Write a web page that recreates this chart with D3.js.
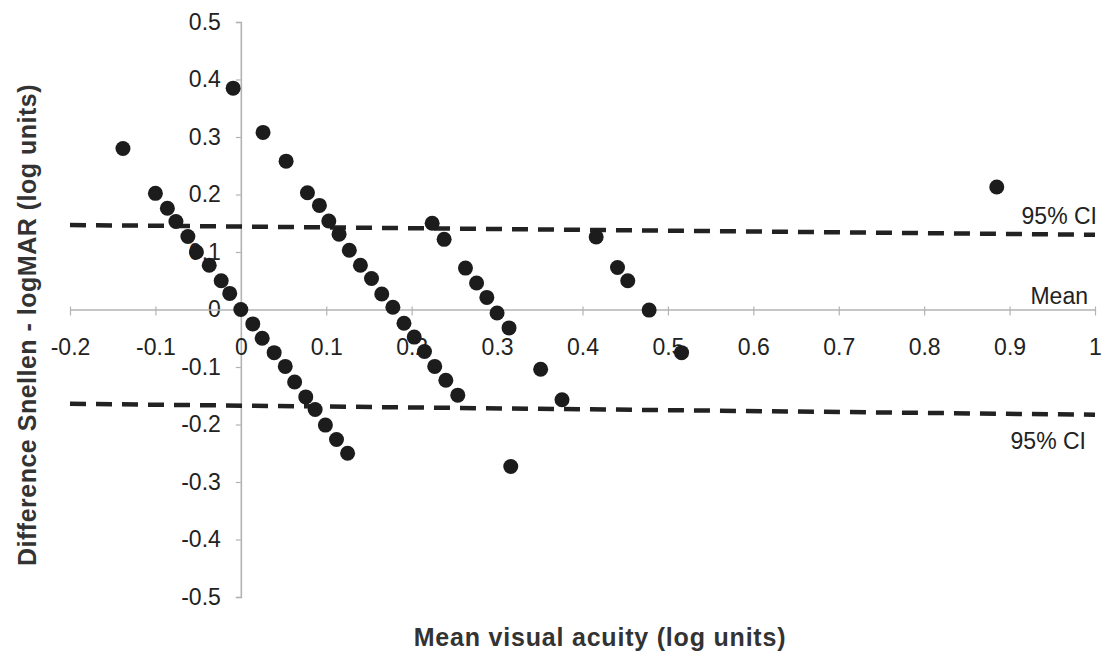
<!DOCTYPE html>
<html>
<head>
<meta charset="utf-8">
<script src="https://cdn.jsdelivr.net/npm/d3@7"></script>
<style>
  html, body { margin: 0; padding: 0; background: #fff; }
  svg { display: block; font-family: "Liberation Sans", Arial, Helvetica, sans-serif; }
</style>
</head>
<body>
<svg id="chart" width="1105" height="656"></svg>
<script>
// ---- Data ----
// Mean visual acuity (x) and Snellen - logMAR difference (y) for each subject
const meanAcuity = [
  -0.138, -0.009, 0.026, 0.053,
  -0.100, -0.086, -0.076, -0.062, -0.052, -0.037, -0.023, -0.013, 0.000, 0.014,
  0.025, 0.039, 0.052, 0.063, 0.076, 0.087, 0.099, 0.112, 0.125,
  0.078, 0.092, 0.103, 0.115, 0.127, 0.140, 0.153, 0.165, 0.178, 0.191,
  0.203, 0.215, 0.227, 0.240, 0.254,
  0.224, 0.238, 0.263, 0.276, 0.288, 0.300, 0.314,
  0.351, 0.376, 0.316,
  0.416, 0.441, 0.453, 0.478, 0.516, 0.885
];
const difference = [
  0.280, 0.385, 0.308, 0.258,
  0.202, 0.176, 0.153, 0.127, 0.100, 0.077, 0.050, 0.028, 0.000, -0.025,
  -0.050, -0.075, -0.099, -0.126, -0.152, -0.174, -0.201, -0.226, -0.250,
  0.203, 0.181, 0.154, 0.131, 0.103, 0.077, 0.054, 0.027, 0.004, -0.024,
  -0.048, -0.073, -0.099, -0.123, -0.149,
  0.150, 0.122, 0.072, 0.046, 0.021, -0.006, -0.032,
  -0.104, -0.157, -0.273,
  0.126, 0.073, 0.050, -0.001, -0.075, 0.213
];

// Reference lines (values at the left and right ends of the plotted range)
const lineEndsX = [-0.2, 1];
const ciUpper = [0.147, 0.130];
const ciLower = [-0.164, -0.183];
const meanDiff = 0;

// Axis ticks
const xTicks = [-0.2, -0.1, 0, 0.1, 0.2, 0.3, 0.4, 0.5, 0.6, 0.7, 0.8, 0.9, 1];
const xTickLabels = ["-0.2", "-0.1", "0", "0.1", "0.2", "0.3", "0.4", "0.5", "0.6", "0.7", "0.8", "0.9", "1"];
const yTicks = [0.5, 0.4, 0.3, 0.2, 0.1, 0, -0.1, -0.2, -0.3, -0.4, -0.5];
const yTickLabels = ["0.5", "0.4", "0.3", "0.2", "0.1", "0", "-0.1", "-0.2", "-0.3", "-0.4", "-0.5"];

const lineLabels = ["95% CI", "Mean", "95% CI"];
const xTitle = "Mean visual acuity (log units)";
const yTitle = "Difference Snellen - logMAR (log units)";

// ---- Drawing ----
const svg = d3.select("#chart");
const x = d3.scaleLinear().domain([-0.2, 1]).range([70, 1095]);
const y = d3.scaleLinear().domain([-0.5, 0.5]).range([597, 22]);

const axisColor = "#b3b3b3";
const textColor = "#222";

// Y axis (at x = 0)
const yAxis = svg.append("g")
  .attr("transform", `translate(${x(0)},0)`)
  .call(d3.axisLeft(y).tickValues(yTicks).tickSize(5).tickPadding(15)
    .tickFormat((d, i) => yTickLabels[i]));
yAxis.select(".domain").attr("stroke", axisColor).attr("stroke-width", 1.6);
yAxis.selectAll(".tick line").attr("stroke", axisColor).attr("stroke-width", 1.2);
yAxis.selectAll(".tick text").attr("fill", textColor).attr("font-size", 23);

// X axis (at y = mean difference)
const xAxis = svg.append("g")
  .attr("transform", `translate(0,${y(meanDiff)})`)
  .call(d3.axisBottom(x).tickValues(xTicks).tickSizeOuter(0).tickSizeInner(8)
    .tickFormat((d, i) => xTickLabels[i]));
xAxis.select(".domain").attr("stroke", axisColor).attr("stroke-width", 1.6);
xAxis.selectAll(".tick line").attr("stroke", axisColor).attr("stroke-width", 1.2).attr("y1", -3).attr("y2", 6);
xAxis.selectAll(".tick text").attr("fill", textColor).attr("font-size", 23)
  .attr("y", 45).attr("dy", 0);

// Dashed 95% CI lines
const line = d3.line().x(d => x(d[0])).y(d => y(d[1]));
[ciUpper, ciLower].forEach(vals => {
  svg.append("path")
    .attr("d", line(lineEndsX.map((lx, i) => [lx, vals[i]])))
    .attr("fill", "none")
    .attr("stroke", "#222")
    .attr("stroke-width", 4.5)
    .attr("stroke-dasharray", "16,10");
});

// Data points
svg.append("g").selectAll("circle")
  .data(meanAcuity.map((mx, i) => [mx, difference[i]]))
  .join("circle")
  .attr("cx", d => x(d[0]))
  .attr("cy", d => y(d[1]))
  .attr("r", 7.5)
  .attr("fill", "#1c1c1c");

// Line labels
const labelVals = [ciUpper[1], meanDiff, ciLower[1]];
const labelDy = [-11, -6, 34];
svg.append("g").selectAll("text")
  .data(lineLabels)
  .join("text")
  .attr("x", (d, i) => i === 0 ? 1097 : (i === 1 ? 1088 : 1086))
  .attr("y", (d, i) => y(labelVals[i]) + labelDy[i])
  .attr("text-anchor", "end")
  .attr("font-size", 23)
  .attr("fill", textColor)
  .text(d => d);

// Axis titles
svg.append("text")
  .attr("x", 600).attr("y", 646)
  .attr("text-anchor", "middle")
  .attr("font-size", 25).attr("font-weight", "bold")
  .attr("letter-spacing", 0.8)
  .attr("fill", "#333")
  .text(xTitle);

svg.append("text")
  .attr("transform", `translate(36,325) rotate(-90)`)
  .attr("text-anchor", "middle")
  .attr("font-size", 25).attr("font-weight", "bold")
  .attr("letter-spacing", 0.5)
  .attr("fill", "#333")
  .text(yTitle);
</script>
</body>
</html>
